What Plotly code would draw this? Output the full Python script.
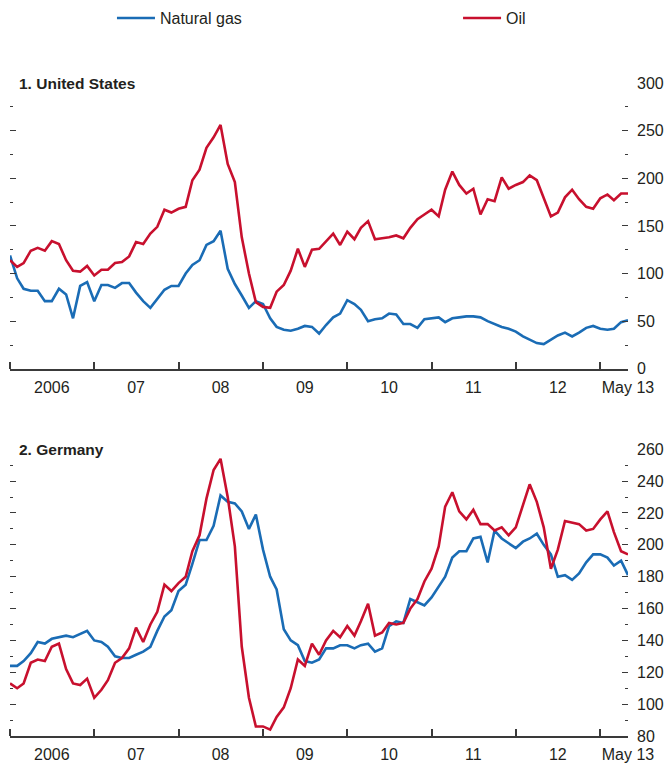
import pandas as pd
import plotly.graph_objects as go

# monthly, Jan 2006 .. May 2013 (index, Jan 2006 = 100)
months = pd.date_range("2006-01-01", "2013-05-01", freq="MS")

us_gas = [119, 95, 84, 82, 82, 71, 71, 84, 78, 53, 87, 91, 71, 88, 88, 85, 90, 90, 80, 71,
          64, 74, 83, 87, 87, 100, 109, 114, 130, 134, 145, 105, 89, 77, 64, 71, 68, 53, 44, 41,
          40, 42, 45, 44, 37, 46, 54, 58, 72, 68, 62, 50, 52, 53, 58, 57, 47, 47, 43, 52,
          53, 54, 49, 53, 54, 55, 55, 54, 50, 47, 44, 42, 39, 34, 31, 27, 26, 31, 35, 38,
          34, 38, 43, 45, 42, 41, 42, 49, 51]
us_oil = [114, 107, 111, 124, 127, 124, 134, 131, 114, 103, 102, 108, 98, 104, 104, 111, 112, 118, 133, 131,
          142, 149, 167, 164, 168, 170, 198, 209, 232, 243, 256, 215, 196, 138, 100, 70, 65, 64, 81, 88,
          103, 126, 107, 125, 126, 134, 142, 130, 144, 136, 148, 155, 136, 137, 138, 140, 137, 148, 157, 162,
          167, 160, 188, 207, 193, 184, 189, 162, 178, 176, 201, 189, 193, 196, 203, 198, 180, 160, 164, 180,
          188, 178, 170, 168, 179, 183, 177, 184, 184]
de_gas = [124, 124, 127, 132, 139, 138, 141, 142, 143, 142, 144, 146, 140, 139, 136, 130, 129, 129, 131, 133,
          136, 146, 155, 159, 171, 175, 188, 203, 203, 212, 231, 227, 226, 221, 210, 219, 197, 180, 172, 147,
          140, 137, 127, 126, 128, 135, 135, 137, 137, 135, 137, 138, 133, 135, 149, 152, 151, 166, 164, 162,
          167, 174, 180, 192, 196, 196, 204, 205, 189, 209, 204, 201, 198, 202, 204, 207, 200, 194, 180, 181,
          178, 182, 189, 194, 194, 192, 187, 190, 181]
de_oil = [113, 110, 113, 126, 128, 127, 136, 138, 122, 113, 112, 116, 104, 109, 115, 126, 129, 135, 148, 139,
          150, 158, 175, 171, 176, 180, 196, 206, 229, 247, 254, 230, 199, 136, 104, 86, 86, 84, 92, 98,
          110, 128, 124, 138, 131, 140, 146, 142, 149, 143, 152, 163, 143, 145, 151, 150, 151, 160, 166, 177,
          185, 199, 224, 233, 221, 216, 222, 213, 213, 209, 211, 206, 211, 225, 238, 227, 211, 185, 197, 215,
          214, 213, 209, 210, 216, 221, 208, 196, 194]

year_starts = [f"{y}-01-01" for y in range(2006, 2014)]
label_pos = [f"{y}-07-01" for y in range(2006, 2013)] + ["2013-05-01"]
label_text = ["2006", "07", "08", "09", "10", "11", "12", "May 13"]

BLUE = "#1a6cb5"
RED = "#c8102e"
INK = "#231f20"
AX = "#3a3a3a"
FONT = "Liberation Sans, Arial, sans-serif"

fig = go.Figure()
fig.add_trace(go.Scatter(x=months, y=us_gas, name="Natural gas", mode="lines", legend="legend",
                         line=dict(color=BLUE, width=2.6), xaxis="x", yaxis="y"))
fig.add_trace(go.Scatter(x=months, y=us_oil, name="Oil", mode="lines", legend="legend2",
                         line=dict(color=RED, width=2.6), xaxis="x", yaxis="y"))
fig.add_trace(go.Scatter(x=months, y=de_gas, name="Natural gas", mode="lines", showlegend=False,
                         line=dict(color=BLUE, width=2.6), xaxis="x2", yaxis="y2"))
fig.add_trace(go.Scatter(x=months, y=de_oil, name="Oil", mode="lines", showlegend=False,
                         line=dict(color=RED, width=2.6), xaxis="x2", yaxis="y2"))

xcommon = dict(
    range=["2006-01-01", "2013-05-01"],
    tickmode="array", tickvals=label_pos, ticktext=label_text,
    ticks="", showline=True, linecolor=AX, linewidth=1.5,
    showgrid=False, zeroline=False, ticklabelstandoff=3,
    tickfont=dict(family=FONT, size=16, color=INK),
    minor=dict(tickmode="array", tickvals=year_starts, ticks="inside",
               ticklen=7, tickwidth=1.5, tickcolor=AX, showgrid=False),
)
ycommon = dict(
    side="right", ticks="inside", mirror="ticks", showline=False,
    showgrid=False, zeroline=False, ticklen=6, tickwidth=1.3, tickcolor=AX,
    tickfont=dict(family=FONT, size=16, color=INK), ticklabelstandoff=8,
)
legcommon = dict(orientation="h", xanchor="left", y=1.0995, yanchor="middle",
                 itemwidth=38, font=dict(family=FONT, size=16, color=INK))

fig.update_layout(
    width=665, height=766,
    margin=dict(l=10, r=37, t=83, b=30, autoexpand=False),
    paper_bgcolor="white", plot_bgcolor="white",
    font=dict(family=FONT, color=INK),
    xaxis=dict(xcommon, domain=[0, 1], anchor="y"),
    xaxis2=dict(xcommon, domain=[0, 1], anchor="y2"),
    yaxis=dict(ycommon, domain=[0.5623, 1], anchor="x", range=[0, 300],
               tickvals=[0, 50, 100, 150, 200, 250, 300],
               minor=dict(dtick=25, ticks="inside", ticklen=3, tickwidth=1.3, tickcolor=AX)),
    yaxis2=dict(ycommon, domain=[0, 0.4391], anchor="x2", range=[80, 260],
                tickvals=list(range(80, 261, 20)),
                minor=dict(dtick=10, ticks="inside", ticklen=3, tickwidth=1.3, tickcolor=AX)),
    legend=dict(legcommon, x=0.165),
    legend2=dict(legcommon, x=0.725),
    showlegend=True,
)

fig.add_annotation(text="<b>1. United States</b>", xref="paper", yref="y domain",
                   x=0.0113, y=1, xanchor="left", yanchor="middle", showarrow=False,
                   font=dict(family=FONT, size=15.5, color=INK))
fig.add_annotation(text="<b>2. Germany</b>", xref="paper", yref="y2 domain",
                   x=0.0113, y=1, xanchor="left", yanchor="middle", showarrow=False,
                   font=dict(family=FONT, size=15.5, color=INK))

# drop the default 8px page margin so the 665x766 figure fills the window exactly
fig.write_html("out.html", config={"displayModeBar": False},
               post_script="document.body.style.margin='0';document.body.style.overflow='hidden';")
